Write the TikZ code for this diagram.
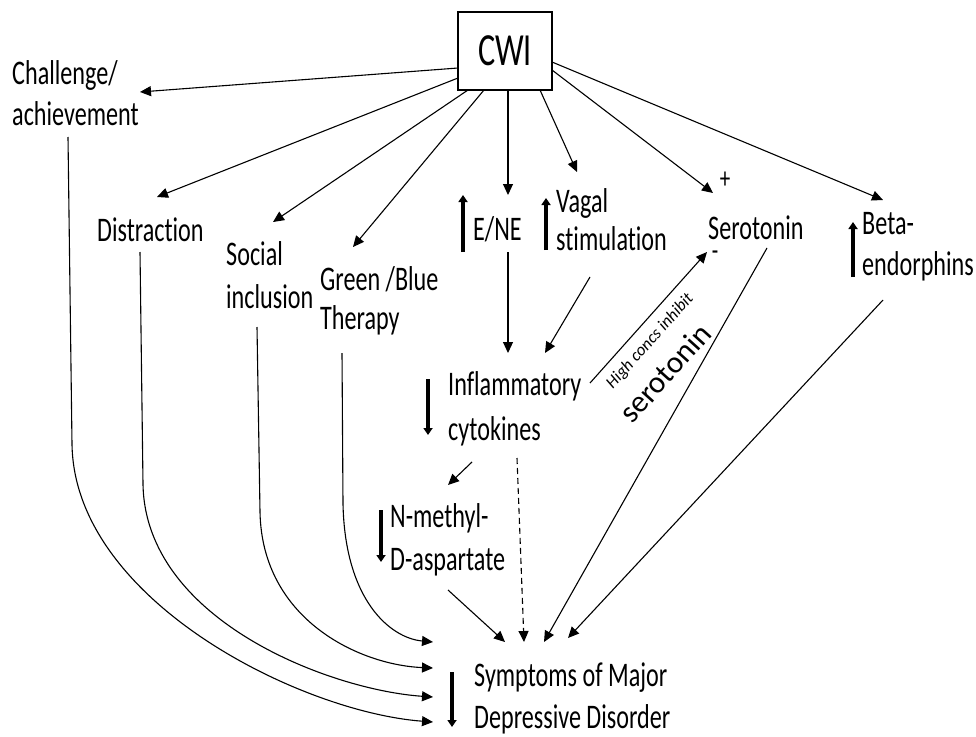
\documentclass[tikz,border=0pt]{standalone}
\usepackage{fontspec}
\setmainfont{Carlito}[FakeStretch=0.7, Ligatures={NoCommon}]
\newfontfamily\rotfont{Carlito}[Ligatures={NoCommon}]
\usetikzlibrary{arrows.meta,calc}
\newcommand\mystrut{\rule{0pt}{26pt}}
\begin{document}
\begin{tikzpicture}[x=1pt,y=-1pt,
  lbl/.style={font=\fontsize{34.5}{#1}\selectfont, align=left, inner sep=0pt, anchor=north west},
  lbl/.default=41,
  con/.style={line width=1.1pt, -{Triangle[length=11pt,width=10pt]}},
  dcon/.style={con, dash pattern=on 6pt off 4pt},
  ind/.style={line width=3.6pt, -{Triangle[length=7pt,width=9pt]}},
  sign/.style={inner sep=0pt}
]
\useasboundingbox[fill=white] (0,0) rectangle (976,736);

% nodes
\node[draw, line width=1.2pt, minimum width=94pt, minimum height=78pt, inner sep=0pt,
      font=\fontsize{46}{50}\selectfont] (cwi) at (505,51) {CWI};
\node[lbl] (chal) at (12,58) {\mystrut Challenge/\\achievement};
\node[lbl] (dist) at (97,215) {\mystrut Distraction};
\node[lbl=43] (soc) at (226,239) {\mystrut Social\\inclusion};
\node[lbl=39] (green) at (320,264) {\mystrut Green /Blue\\Therapy};
\node[lbl] (ene) at (473,214) {\mystrut E/NE};
\node[lbl=38] (vagal) at (556,186) {\mystrut Vagal\\stimulation};
\node[lbl] (sero) at (708,213) {\mystrut Serotonin};
\node[lbl] (beta) at (862,208) {\mystrut Beta-\\endorphins};
\node[lbl=45] (infl) at (448,369) {\mystrut Inflammatory\\cytokines};
\node[lbl=43] (nmda) at (390,501) {\mystrut N-methyl-\\D-aspartate};
\node[lbl=42] (symp) at (474,660) {\mystrut Symptoms of Major\\Depressive Disorder};

\node[sign, font=\fontsize{30}{32}\selectfont] (plus) at (725,180) {+};
\node[sign, font=\fontsize{30}{32}\selectfont] (minus) at (715,256) {-};
\node[rotate=48, inner sep=0pt, align=left] (inhib) at (659,358)
  {\rotfont\itshape\fontsize{17}{19}\selectfont\hspace*{13pt}High concs inhibit\\[13pt]
   \rotfont\fontsize{31}{31}\selectfont serotonin};

% CWI arrows
\draw[con] ($(cwi.center)+(-47,17)$) -- ($(chal.north west)+(128,34)$);
\draw[con] ($(cwi.center)+(-47,27)$) -- ($(dist.north west)+(60,-18)$);
\draw[con] ($(cwi.center)+(-37,39)$) -- ($(soc.north west)+(47,-17)$);
\draw[con] ($(cwi.center)+(-21,39)$) -- ($(green.north west)+(33,-17)$);
\draw[con] ($(cwi.center)+(3,39)$) -- ($(ene.north west)+(35,-19)$);
\draw[con] ($(cwi.center)+(35,39)$) -- ($(vagal.north west)+(21,-14)$);
\draw[con] ($(cwi.center)+(47,19)$) -- ($(sero.north west)+(5,-20)$);
\draw[con] ($(cwi.center)+(47,11)$) -- ($(beta.north west)+(21,-8)$);

% middle arrows
\draw[con] ($(ene.north west)+(35,38)$) -- ($(infl.north west)+(60,-16)$);
\draw[con] ($(vagal.north west)+(34,91)$) -- ($(infl.north west)+(97,-16)$);
\draw[con] ($(infl.north west)+(142,14)$) -- ($(sero.north west)+(-1,39)$);
\draw[con] ($(infl.north west)+(24,93)$) -- ($(nmda.north west)+(58,-16)$);
\draw[dcon] ($(infl.north west)+(69,89)$) -- ($(symp.north west)+(50,-18)$);
\draw[con] ($(nmda.north west)+(58,89)$) -- ($(symp.north west)+(31,-18)$);
\draw[con] ($(sero.north west)+(59,35)$) -- ($(symp.north west)+(70,-18)$);
\draw[con] ($(beta.north west)+(21,92)$) -- ($(symp.north west)+(94,-22)$);

% curved arrows
\draw[con] ($(chal.north west)+(56,79)$) -- (72,444) .. controls (74,600) and (300,712) .. ($(symp.north west)+(-41,62)$);
\draw[con] ($(dist.north west)+(43,37)$) -- (143,484) .. controls (145,620) and (330,690) .. ($(symp.north west)+(-41,37)$);
\draw[con] ($(soc.north west)+(31,88)$) -- (260,512) .. controls (262,620) and (360,665) .. ($(symp.north west)+(-41,8)$);
\draw[con] ($(green.north west)+(22,89)$) -- (343,504) .. controls (345,600) and (390,638) .. ($(symp.north west)+(-41,-18)$);

% up / down indicators
\draw[ind] ($(ene.north west)+(-10,38)$) -- ($(ene.north west)+(-10,-19)$);
\draw[ind] ($(vagal.north west)+(-10,64)$) -- ($(vagal.north west)+(-10,12)$);
\draw[ind] ($(beta.north west)+(-9,69)$) -- ($(beta.north west)+(-9,14)$);
\draw[ind] ($(infl.north west)+(-20,10)$) -- ($(infl.north west)+(-20,66)$);
\draw[ind] ($(nmda.north west)+(-9,9)$) -- ($(nmda.north west)+(-9,61)$);
\draw[ind] ($(symp.north west)+(-22,12)$) -- ($(symp.north west)+(-22,67)$);
\end{tikzpicture}
\end{document}
